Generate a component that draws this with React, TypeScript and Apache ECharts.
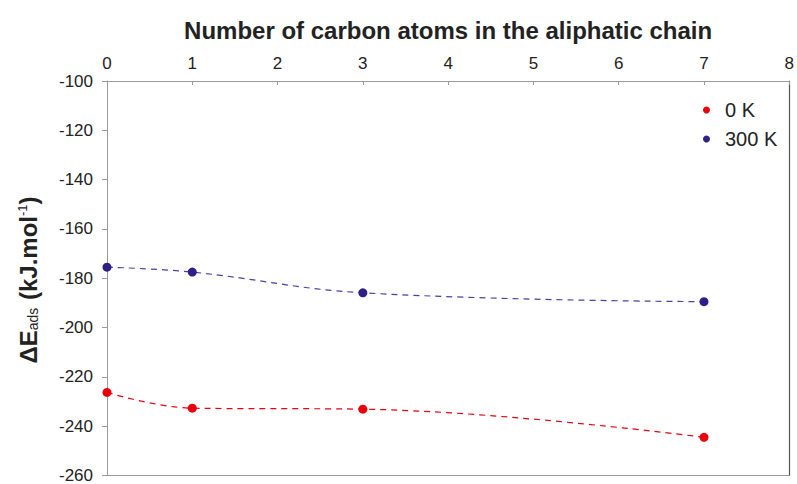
import React, { useEffect, useRef } from "react";
import * as echarts from "echarts";

const carbonAtoms = [0, 1, 3, 7];
const e0K = [-226.3, -232.7, -233.1, -244.5];
const e300K = [-175.5, -177.5, -185.9, -189.5];
const seriesNames = ["0 K", "300 K"];
const xTicks = { min: 0, max: 8, interval: 1 };
const yTicks = { min: -260, max: -100, interval: 20 };

const RED = "#e8000d";
const BLUE = "#2d2187";
const FONT = "'Liberation Sans', Arial, Helvetica, sans-serif";

export default function App() {
  const ref = useRef<HTMLDivElement>(null);
  useEffect(() => {
    if (!ref.current) return;
    const chart = echarts.init(ref.current, undefined, { renderer: "svg" });
    const mk = (vals: number[]) => carbonAtoms.map((x, i) => [x, vals[i]]);
    chart.setOption({
      animation: false,
      backgroundColor: "#ffffff",
      textStyle: { fontFamily: FONT },
      grid: { left: 107, right: 4, top: 81, bottom: 6, containLabel: false },
      legend: {
        orient: "vertical",
        left: 703,
        top: 100,
        padding: 0,
        itemWidth: 7,
        itemHeight: 7,
        itemGap: 9,
        icon: "circle",
        textStyle: { fontSize: 20, color: "#222", fontFamily: FONT, padding: [0, 0, 0, 10] },
        data: seriesNames,
      },
      graphic: [
        {
          type: "text",
          x: 28,
          y: 280,
          rotation: Math.PI / 2,
          style: {
            text: "{b|ΔE}{sub|ads}{b| (kJ.mol}{sup|-1}{b|)}",
            align: "center",
            verticalAlign: "middle",
            rich: {
              b: { fontSize: 24, fontWeight: "bold", fill: "#222", fontFamily: FONT },
              sub: { fontSize: 14, fontWeight: "normal", fill: "#222", fontFamily: FONT, verticalAlign: "bottom", padding: [10, 1, 0, 0] },
              sup: { fontSize: 13, fontWeight: "normal", fill: "#222", fontFamily: FONT, verticalAlign: "top", padding: [0, 0, 10, 0] },
            },
          },
        },
      ],
      xAxis: [
        {
          type: "value",
          position: "top",
          min: xTicks.min,
          max: xTicks.max,
          interval: xTicks.interval,
          name: "Number of carbon atoms in the aliphatic chain",
          nameLocation: "middle",
          nameGap: 39,
          nameTextStyle: { fontSize: 24, fontWeight: "bold", color: "#222", fontFamily: FONT },
          axisLine: { show: true, lineStyle: { color: "#9a9a9a", width: 1 } },
          axisTick: { show: true, inside: true, length: 4, lineStyle: { color: "#9a9a9a" } },
          axisLabel: { fontSize: 17, color: "#222", margin: 9, fontFamily: FONT },
          splitLine: { show: false },
        },
        {
          type: "value",
          position: "bottom",
          min: xTicks.min,
          max: xTicks.max,
          interval: xTicks.interval,
          axisLine: { show: true, onZero: false, lineStyle: { color: "#9a9a9a", width: 1 } },
          axisTick: { show: false },
          axisLabel: { show: false },
          splitLine: { show: false },
        },
      ],
      yAxis: [
        {
          type: "value",
          position: "left",
          min: yTicks.min,
          max: yTicks.max,
          interval: yTicks.interval,
          axisLine: { show: true, onZero: false, lineStyle: { color: "#9a9a9a", width: 1 } },
          axisTick: { show: true, length: 5, lineStyle: { color: "#9a9a9a" } },
          axisLabel: { fontSize: 17, color: "#222", margin: 14, fontFamily: FONT },
          splitLine: { show: false },
        },
        {
          type: "value",
          position: "right",
          min: yTicks.min,
          max: yTicks.max,
          interval: yTicks.interval,
          axisLine: { show: true, onZero: false, lineStyle: { color: "#555", width: 1.2 } },
          axisTick: { show: false },
          axisLabel: { show: false },
          splitLine: { show: false },
        },
      ],
      series: [
        {
          name: seriesNames[0],
          type: "line",
          data: mk(e0K),
          smooth: 0.4,
          symbol: "circle",
          symbolSize: 9,
          itemStyle: { color: RED },
          lineStyle: { color: RED, width: 1.2, type: [6, 5] },
        },
        {
          name: seriesNames[1],
          type: "line",
          data: mk(e300K),
          smooth: 0.4,
          symbol: "circle",
          symbolSize: 9,
          itemStyle: { color: BLUE },
          lineStyle: { color: "#4a3fa0", width: 1.2, type: [6, 5] },
        },
      ],
    });
    return () => chart.dispose();
  }, []);
  return <div ref={ref} style={{ position: "absolute", left: 0, top: 0, width: 797, height: 484 }} />;
}
